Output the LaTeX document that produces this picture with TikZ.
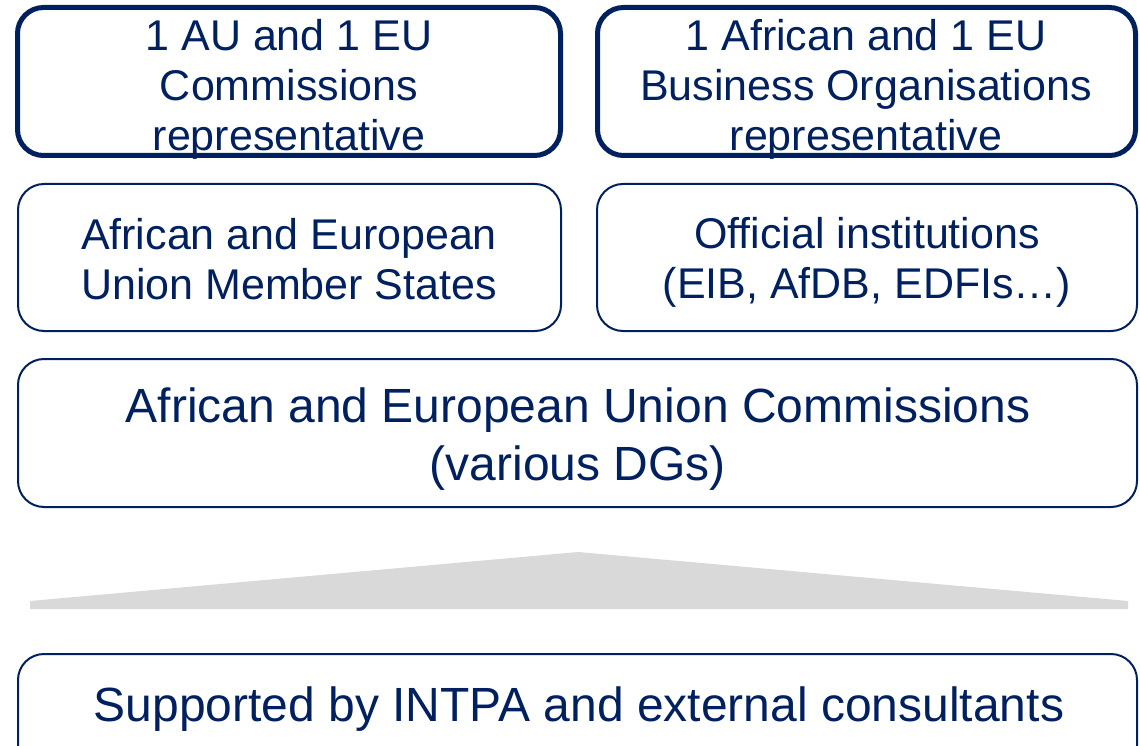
\documentclass[tikz,border=0pt]{standalone}
\usepackage{fontspec}
\setmainfont{Liberation Sans}
\definecolor{navy}{HTML}{002060}
\definecolor{lightgrey}{HTML}{D9D9D9}
\begin{document}
\begin{tikzpicture}[x=1pt,y=-1pt,
  box/.style={draw=navy,rounded corners=26pt,inner sep=0pt,outer sep=0pt},
  thickbox/.style={box,line width=5pt},
  thinbox/.style={box,line width=2pt},
  lbl/.style={text=navy,align=center,inner sep=0pt,font=\fontsize{43}{50}\selectfont},
  biglbl/.style={lbl,font=\fontsize{48}{58}\selectfont}]
\useasboundingbox (0,0) rectangle (1140,746);
% boxes
\node[thickbox,minimum width=543pt,minimum height=148pt] (b1) at (289,81.5) {};
\node[thickbox,minimum width=538pt,minimum height=148pt] (b2) at (866.5,81.5) {};
\node[thinbox,minimum width=543pt,minimum height=147pt] (b3) at (289.5,257.5) {};
\node[thinbox,minimum width=540pt,minimum height=147pt] (b4) at (867,257.5) {};
\node[thinbox,minimum width=1119pt,minimum height=148pt] (b5) at (577.5,433) {};
\node[thinbox,minimum width=1119pt,minimum height=146pt] (b6) at (577.5,727) {};
% labels
\node[lbl] (t1) at (289,89) {1 AU and 1 EU\\Commissions\\representative};
\node[lbl] (t2) at (866,89) {1 African and 1 EU\\Business Organisations\\representative};
\node[lbl] (t3) at (289,259) {African and European\\Union Member States};
\node[lbl] (t4) at (867,262) {Official institutions\\(EIB, AfDB, EDFIs\ldots)};
\node[biglbl] (t5) at (578,439) {African and European Union Commissions\\(various DGs)};
\node[biglbl] (t6) at (579,709) {Supported by INTPA and external consultants};
% base shape
\fill[lightgrey] (30,601) -- (578,552) -- (1128,601) -- (1128,609) -- (30,609) -- cycle;
\end{tikzpicture}
\end{document}
